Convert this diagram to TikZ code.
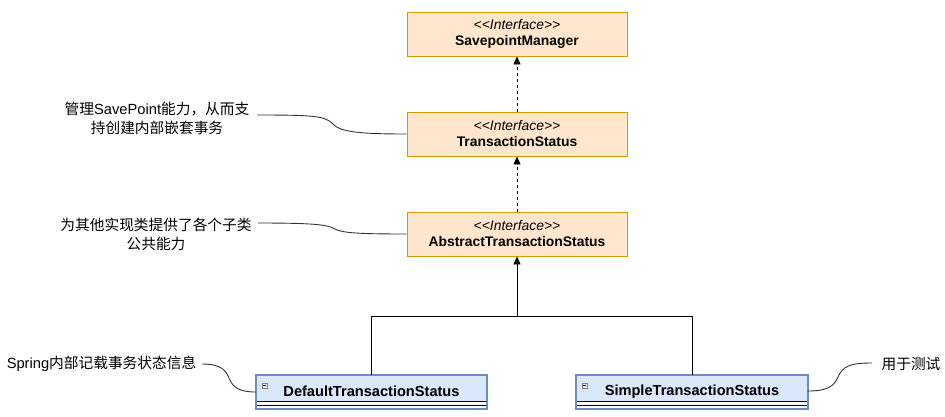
\documentclass[tikz,border=0pt]{standalone}
\usepackage{fontspec}
\setmainfont{Liberation Sans}
\newfontfamily\cjk{Noto Sans CJK SC}
\usetikzlibrary{arrows.meta}
\definecolor{ifill}{HTML}{FFE6CC}
\definecolor{iline}{HTML}{D79B00}
\definecolor{cfill}{HTML}{DAE8FC}
\definecolor{cline}{HTML}{6C8EBF}
\begin{document}
\begin{tikzpicture}[x=1pt,y=-1pt,
  iface/.style={draw=iline, fill=ifill, line width=0.9pt, minimum width=220pt, minimum height=44pt, inner sep=0pt, align=center, font=\fontsize{13.9}{16}\selectfont},
  chead/.style={fill=cfill, minimum width=231pt, minimum height=26pt, inner sep=0pt},
  ctitle/.style={inner sep=0pt, font=\fontsize{14.6}{16}\selectfont\bfseries},
  cborder/.style={draw=cline, line width=1.8pt},
  csep/.style={draw=black, line width=0.9pt},
  note/.style={align=center, inner sep=0pt, font=\fontsize{14.7}{19}\selectfont},
  dep/.style={line width=0.9pt, dash pattern=on 3pt off 3pt, -{Triangle[width=7pt,length=8pt]}},
  inh/.style={line width=0.9pt, -{Triangle[width=7pt,length=8pt]}},
  plain/.style={line width=0.9pt},
  notelink/.style={line width=0.9pt, draw=black!80}
]
\useasboundingbox (0,0) rectangle (945,416);

% interfaces
\node[iface] (spm) at (517,34) {\textit{<\kern0pt<Interface>\kern0pt>}\\\textbf{SavepointManager}};
\node[iface] (ts) at (517,134) {\textit{<\kern0pt<Interface>\kern0pt>}\\\textbf{TransactionStatus}};
\node[iface] (ats) at (517,234) {\textit{<\kern0pt<Interface>\kern0pt>}\\\textbf{AbstractTransactionStatus}};

% classes
\node[chead] (dts) at (371.5,388) {};
\fill[white] (dts.south west) rectangle ([yshift=-8pt]dts.south east);
\draw[csep] (dts.south west) -- (dts.south east);
\draw[csep] ([yshift=-4.5pt]dts.south west) -- ([yshift=-4.5pt]dts.south east);
\draw[cborder] (dts.north west) rectangle ([yshift=-8pt]dts.south east);
\node[ctitle] (dtst) at ([yshift=-3.5pt]dts.center) {DefaultTransactionStatus};
\draw[gray, fill=black!8, line width=0.6pt] ([xshift=6pt,yshift=-8.5pt]dts.north west) rectangle ++(5,5);
\draw[black, line width=0.8pt] ([xshift=7pt,yshift=-11pt]dts.north west) -- ++(3,0);

\node[chead] (sts) at (692,388) {};
\fill[white] (sts.south west) rectangle ([yshift=-8pt]sts.south east);
\draw[csep] (sts.south west) -- (sts.south east);
\draw[csep] ([yshift=-4.5pt]sts.south west) -- ([yshift=-4.5pt]sts.south east);
\draw[cborder] (sts.north west) rectangle ([yshift=-8pt]sts.south east);
\node[ctitle] (stst) at ([yshift=-3.5pt]sts.center) {SimpleTransactionStatus};
\draw[gray, fill=black!8, line width=0.6pt] ([xshift=6pt,yshift=-8.5pt]sts.north west) rectangle ++(5,5);
\draw[black, line width=0.8pt] ([xshift=7pt,yshift=-11pt]sts.north west) -- ++(3,0);

% relations
\draw[dep] (ts) -- (spm);
\draw[dep] (ats) -- (ts);
\coordinate (junc) at (517,316);
\draw[inh] (junc) -- (ats);
\draw[plain] (dts.north) |- (junc);
\draw[plain] (sts.north) |- (junc);

% notes
\node[note] (n1) at (157,118) {{\cjk 管理}SavePoint{\cjk 能力，从而支}\\{\cjk 持创建内部嵌套事务}};
\node[note] (n2) at (156,234) {{\cjk 为其他实现类提供了各个子类}\\{\cjk 公共能力}};
\node[note] (n3) at (101.5,364) {Spring{\cjk 内部记载事务状态信息}};
\node[note] (n4) at (911,364) {{\cjk 用于测试}};

\coordinate (n1o) at (257,115);
\coordinate (n2o) at (258,223);
\coordinate (n3o) at (202,364);
\coordinate (n4o) at (872,363);

\draw[notelink] (n1o) .. controls (315,115) and (325,116) .. (333,124) .. controls (340,132) and (360,134) .. (ts.west);
\draw[notelink] (n2o) .. controls (318,223) and (328,225) .. (335,229) .. controls (342,233) and (360,234) .. (ats.west);
\draw[notelink] (n3o) .. controls (222,364) and (226,371) .. (229,378) .. controls (233,388) and (240,392) .. ([yshift=-4pt]dts.west);
\draw[notelink] ([yshift=-3pt]sts.east) .. controls (828,391) and (834,386) .. (838,377) .. controls (843,366) and (850,363) .. (n4o);
\end{tikzpicture}
\end{document}
